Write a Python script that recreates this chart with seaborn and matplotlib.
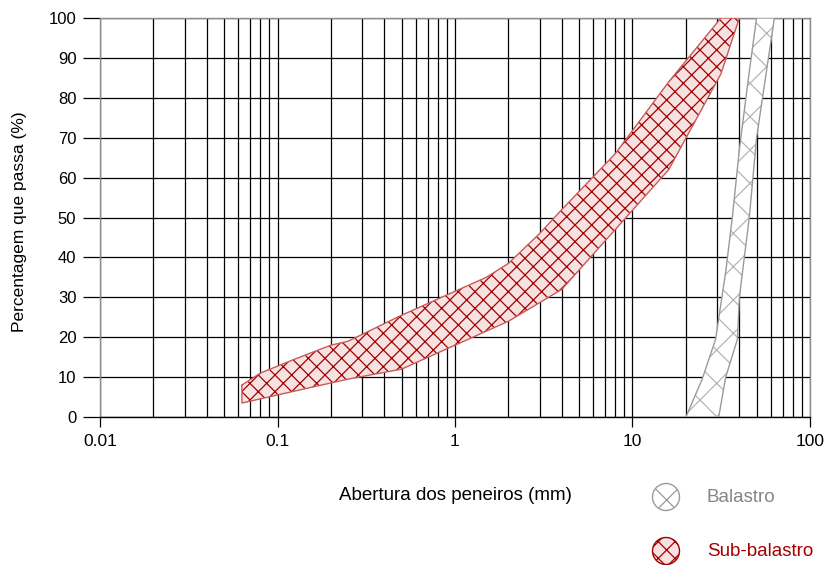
import numpy as np
import pandas as pd
import matplotlib
matplotlib.use("Agg")
import matplotlib.pyplot as plt
from matplotlib.patches import Polygon, Circle
from matplotlib.ticker import FixedLocator, NullFormatter
import seaborn as sns

# ---- data ----
sub_upper_d = [0.063, 0.08, 0.125, 0.2, 0.25, 0.5, 1, 1.5, 2, 3, 4, 8, 16, 31.5]
sub_upper_p = [8, 11, 14.5, 18, 19, 25.5, 31.5, 35, 38.5, 46, 52, 66, 84, 100]
sub_lower_d = [0.063, 0.125, 0.25, 0.5, 1, 2, 4, 8, 16, 31.5, 40]
sub_lower_p = [3.5, 6.5, 9.5, 12, 18, 24, 32, 47, 62, 86, 100]

bal_fine_d = [20, 24.7, 29.4, 33.6, 36.6, 40, 45, 50]
bal_fine_p = [0, 9.5, 19.5, 36.8, 50.5, 67, 85, 100]
bal_coarse_d = [30.6, 33.5, 39, 40, 45.5, 50, 63]
bal_coarse_p = [0, 10, 19.5, 30, 50, 70, 100]

x_ticks = [0.01, 0.1, 1, 10, 100]
x_tick_labels = ["0.01", "0.1", "1", "10", "100"]
y_ticks = list(range(0, 101, 10))
labels = ["Balastro", "Sub-balastro"]

# ---- style ----
sns.set_style("white")
plt.rcParams["font.family"] = ["Liberation Sans", "DejaVu Sans"]
plt.rcParams["hatch.linewidth"] = 0.9

fig = plt.figure(figsize=(8.28, 5.65), dpi=100)
W, H = 828, 565
ax = fig.add_axes([100 / W, 1 - 417 / H, 710 / W, 399 / H])

ax.set_xscale("log")
ax.set_xlim(0.01, 100)
ax.set_ylim(0, 100)

# grid
minor = [m * 10.0 ** e for e in range(-2, 2) for m in range(2, 10)]
ax.xaxis.set_major_locator(FixedLocator(x_ticks))
ax.xaxis.set_minor_locator(FixedLocator(minor))
ax.xaxis.set_minor_formatter(NullFormatter())
ax.set_xticks(x_ticks)
ax.set_xticklabels(x_tick_labels)
ax.set_yticks(y_ticks)
ax.grid(True, which="both", axis="x", color="black", linewidth=0.9)
ax.grid(True, which="major", axis="y", color="black", linewidth=0.9)
ax.set_axisbelow(True)
ax.tick_params(axis="x", which="major", length=7, width=0.9, color="black",
               labelsize=12.5, labelcolor="black", pad=5, direction="out", bottom=True)
ax.tick_params(axis="x", which="minor", length=0)
ax.tick_params(axis="y", which="major", length=12, width=0.9, color="black",
               labelsize=12, labelcolor="black", pad=5, direction="out", left=True)

for s in ["left", "top", "right"]:
    ax.spines[s].set_color("#8c8c8c")
    ax.spines[s].set_linewidth(1.0)
ax.spines["bottom"].set_color("black")
ax.spines["bottom"].set_linewidth(1.0)

# ---- sub-balastro band ----
sub_poly = list(zip(sub_upper_d, sub_upper_p)) + list(zip(sub_lower_d[::-1], sub_lower_p[::-1]))
ax.add_patch(Polygon(sub_poly, closed=True, facecolor="#f7e2e2", edgecolor="#a30000",
                     hatch="xx", linewidth=0, zorder=3))

# ---- balastro band ----
bal_poly = list(zip(bal_fine_d, bal_fine_p)) + list(zip(bal_coarse_d[::-1], bal_coarse_p[::-1]))
ax.add_patch(Polygon(bal_poly, closed=True, facecolor="white", edgecolor="#b5b5b5",
                     hatch="x", linewidth=0, zorder=3))

# outlines via seaborn
sub_outline = pd.DataFrame({"d": [p[0] for p in sub_poly] + [sub_poly[0][0]],
                            "p": [p[1] for p in sub_poly] + [sub_poly[0][1]]})
bal_outline = pd.DataFrame({"d": [p[0] for p in bal_poly] + [bal_poly[0][0]],
                            "p": [p[1] for p in bal_poly] + [bal_poly[0][1]]})
sns.lineplot(data=sub_outline, x="d", y="p", sort=False, estimator=None,
             color="#c85a5a", linewidth=1.0, ax=ax, zorder=4)
sns.lineplot(data=bal_outline, x="d", y="p", sort=False, estimator=None,
             color="#9a9a9a", linewidth=1.0, ax=ax, zorder=4)

ax.set_xlabel("")
ax.set_ylabel("")
ax.set_xlim(0.01, 100)
ax.set_ylim(0, 100)

# axis titles
fig.text(455 / W, 1 - 495 / H, "Abertura dos peneiros (mm)", ha="center", va="center",
         fontsize=13.5, color="black")
fig.text(20 / W, 1 - 222 / H, "Percentagem que passa (%)", ha="center", va="center",
         rotation=90, fontsize=12.5, color="black")

# ---- legend ----
lax = fig.add_axes([640 / W, 0, 188 / W, 100 / H])
lax.set_xlim(0, 188)
lax.set_ylim(0, 100)
lax.axis("off")
lax.add_patch(Circle((26, 100 - 32), 13.5, facecolor="white", edgecolor="#9a9a9a",
                     hatch="x", linewidth=1.0))
lax.add_patch(Circle((26, 100 - 86), 13.5, facecolor="#f7e2e2", edgecolor="#a30000",
                     hatch="xx", linewidth=1.0))
lax.text(67, 100 - 32, labels[0], ha="left", va="center", fontsize=13.5, color="#858585")
lax.text(67, 100 - 86, labels[1], ha="left", va="center", fontsize=13.5, color="#a30000")

fig.savefig("out.png", dpi=100)
